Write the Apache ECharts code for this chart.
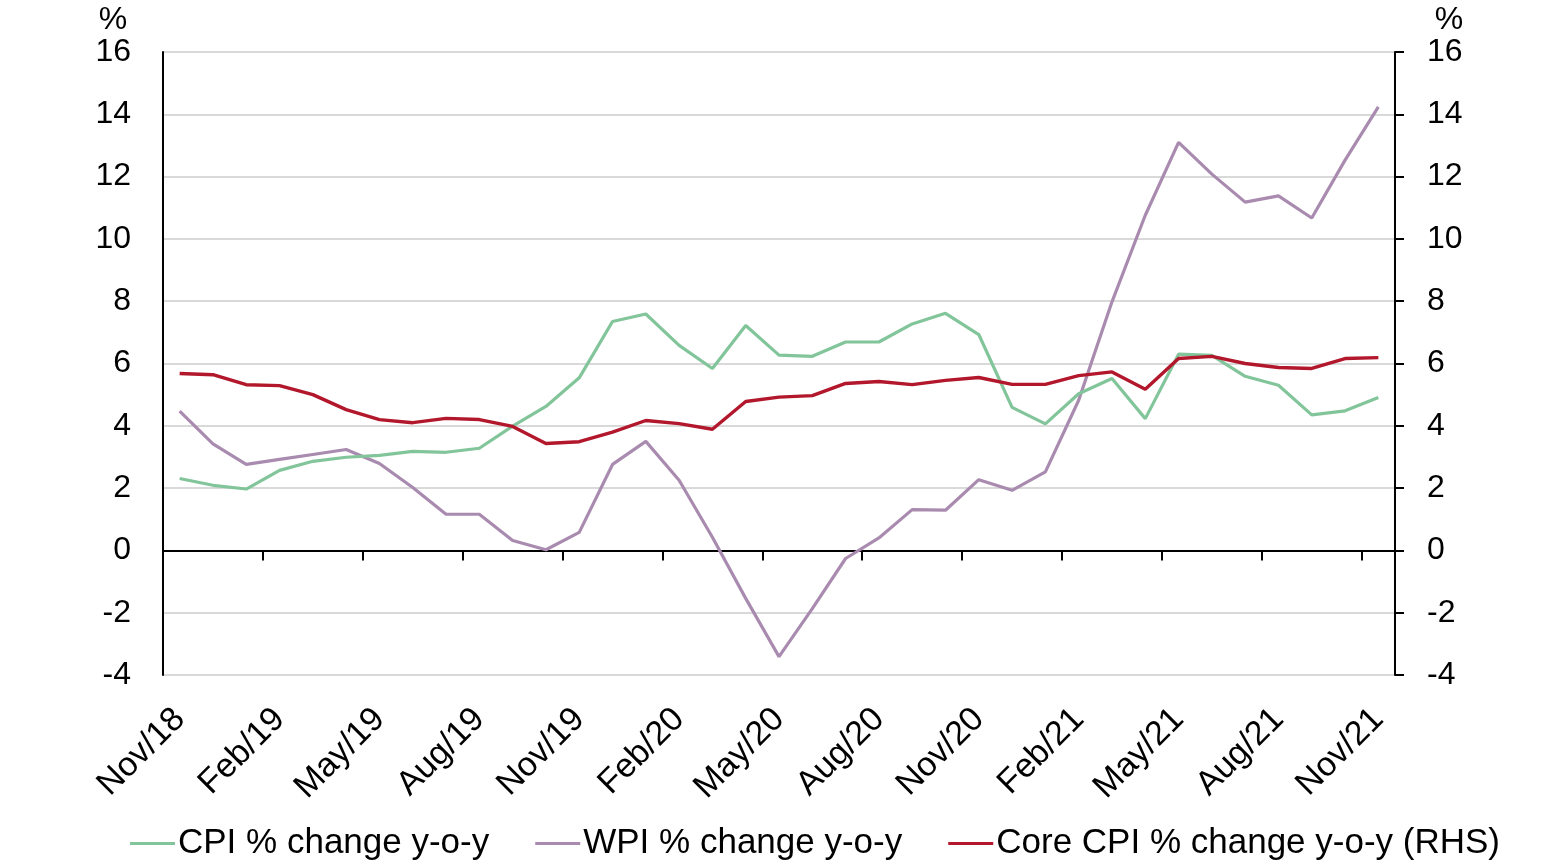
<!DOCTYPE html>
<html>
<head>
<meta charset="utf-8">
<script src="https://cdn.jsdelivr.net/npm/echarts@6/dist/echarts.min.js"></script>
<style>
html,body{margin:0;padding:0;background:#fff;}
#chart{width:1552px;height:867px;}
</style>
</head>
<body>
<div id="chart"></div>
<script>
const months = ['Nov/18','Dec/18','Jan/19','Feb/19','Mar/19','Apr/19','May/19','Jun/19','Jul/19','Aug/19','Sep/19','Oct/19',
  'Nov/19','Dec/19','Jan/20','Feb/20','Mar/20','Apr/20','May/20','Jun/20','Jul/20','Aug/20','Sep/20','Oct/20',
  'Nov/20','Dec/20','Jan/21','Feb/21','Mar/21','Apr/21','May/21','Jun/21','Jul/21','Aug/21','Sep/21','Oct/21','Nov/21'];

const cpi = [2.31,2.09,1.97,2.57,2.86,2.99,3.05,3.18,3.15,3.28,3.99,4.62,
  5.54,7.35,7.59,6.58,5.84,7.22,6.27,6.23,6.69,6.69,7.27,7.61,
  6.93,4.59,4.06,5.03,5.52,4.23,6.30,6.26,5.59,5.30,4.35,4.48,4.91];

const wpi = [4.47,3.42,2.76,2.92,3.08,3.24,2.79,2.02,1.16,1.16,0.32,0.02,
  0.58,2.76,3.50,2.25,0.42,-1.54,-3.41,-1.87,-0.26,0.40,1.31,1.29,
  2.27,1.93,2.52,4.82,7.98,10.76,13.10,12.08,11.18,11.38,10.67,12.53,14.24];

const coreCpi = [5.68,5.64,5.32,5.29,5.00,4.52,4.20,4.10,4.24,4.20,3.98,3.43,
  3.49,3.80,4.17,4.07,3.89,4.78,4.92,4.97,5.36,5.42,5.32,5.46,
  5.55,5.33,5.33,5.61,5.73,5.17,6.16,6.23,6.00,5.87,5.84,6.16,6.19];

const seriesNames = ['CPI % change y-o-y','WPI % change y-o-y','Core CPI % change y-o-y (RHS)'];
const yMin = -4, yMax = 16, yStep = 2;

const FONT = 'Liberation Sans, Arial, sans-serif';
const chart = echarts.init(document.getElementById('chart'));
chart.setOption({
  animation: false,
  backgroundColor: '#fff',
  grid: {left: 163, right: 157, top: 52, bottom: 192},
  legend: {
    left: 130, top: 826, padding: 0, itemWidth: 45, itemHeight: 3, itemGap: 46, icon: 'rect',
    textStyle: {fontFamily: FONT, fontSize: 35, color: '#000', padding: [0,0,0,-2]},
    data: seriesNames
  },
  xAxis: [
    {
      type: 'category', data: months, position: 'bottom', boundaryGap: true,
      axisLine: {show: true, onZero: true, lineStyle: {color: '#000', width: 2}},
      axisTick: {show: true, interval: 2, length: 10, lineStyle: {color: '#000', width: 2}},
      axisLabel: {show: false},
      splitLine: {show: false}
    },
    {
      type: 'category', data: months, position: 'bottom', boundaryGap: true,
      axisLine: {show: false, onZero: false},
      axisTick: {show: false},
      axisLabel: {show: true, interval: 2, rotate: 45, margin: 39, fontFamily: FONT, fontSize: 34, color: '#000'},
      splitLine: {show: false}
    }
  ],
  yAxis: [
    {
      type: 'value', min: yMin, max: yMax, interval: yStep, position: 'left',
      name: '%', nameLocation: 'end', nameGap: 16,
      nameTextStyle: {fontFamily: FONT, fontSize: 32, color: '#000', align: 'center', padding: [0,100,0,0]},
      axisLine: {show: true, lineStyle: {color: '#000', width: 2}},
      axisTick: {show: false},
      axisLabel: {margin: 32, fontFamily: FONT, fontSize: 32, color: '#000'},
      splitLine: {show: true, lineStyle: {color: '#d9d9d9', width: 2}}
    },
    {
      type: 'value', min: yMin, max: yMax, interval: yStep, position: 'right',
      name: '%', nameLocation: 'end', nameGap: 16,
      nameTextStyle: {fontFamily: FONT, fontSize: 32, color: '#000', align: 'center', padding: [0,0,0,108]},
      axisLine: {show: true, lineStyle: {color: '#000', width: 2}},
      axisTick: {show: true, inside: false, length: 9, lineStyle: {color: '#000', width: 2}},
      axisLabel: {margin: 32, fontFamily: FONT, fontSize: 32, color: '#000'},
      splitLine: {show: false}
    }
  ],
  series: [
    {name: seriesNames[0], type: 'line', data: cpi, xAxisIndex: 0, yAxisIndex: 0, symbol: 'none',
     lineStyle: {color: '#82c59a', width: 3.2}, itemStyle: {color: '#82c59a'}, z: 3},
    {name: seriesNames[1], type: 'line', data: wpi, xAxisIndex: 0, yAxisIndex: 0, symbol: 'none',
     lineStyle: {color: '#a98bb0', width: 3.2}, itemStyle: {color: '#a98bb0'}, z: 2},
    {name: seriesNames[2], type: 'line', data: coreCpi, xAxisIndex: 0, yAxisIndex: 1, symbol: 'none',
     lineStyle: {color: '#b2172c', width: 3.4}, itemStyle: {color: '#b2172c'}, z: 4}
  ]
});
</script>
</body>
</html>
